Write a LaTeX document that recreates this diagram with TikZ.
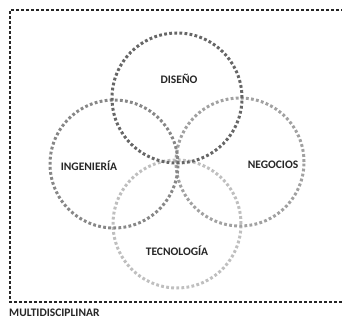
\documentclass[tikz,border=0pt]{standalone}
\usepackage{fontspec}
\setmainfont{Carlito}
\begin{document}
\begin{tikzpicture}[x=1pt,y=-1pt,
  ring/.style={circle, draw=#1, line width=3pt, dash pattern=on 2.8pt off 2.3pt, minimum size=128pt, inner sep=0pt},
  lbl/.style={font=\fontsize{11.5}{13}\selectfont\bfseries, text=black!85, inner sep=0pt},
  frame/.style={draw=black!85, line width=2.8pt, dash pattern=on 2.6pt off 2.4pt}]
\useasboundingbox (0,0) rectangle (342,320);
\node[ring=black!25] (tec) at (177,224) {};
\node[ring=black!37] (neg) at (240,162) {};
\node[ring=black!47] (ing) at (114,164) {};
\node[ring=black!60, minimum size=130pt] (dis) at (177,98) {};
\node[lbl] (tdis) at (179,79) {DISEÑO};
\node[lbl] (ting) at (89,166) {INGENIERÍA};
\node[lbl] (tneg) at (273,165) {NEGOCIOS};
\node[lbl] (ttec) at (177,251) {TECNOLOGÍA};
\coordinate (tr) at (344,10);
\coordinate (tl) at (10,10);
\coordinate (bl) at (10,302);
\coordinate (br) at (344,302);
\draw[frame] (tr) -- (tl) -- (bl) -- (br);
\node[lbl, anchor=west] (multi) at (9,313) {MULTIDISCIPLINAR};
\end{tikzpicture}
\end{document}
